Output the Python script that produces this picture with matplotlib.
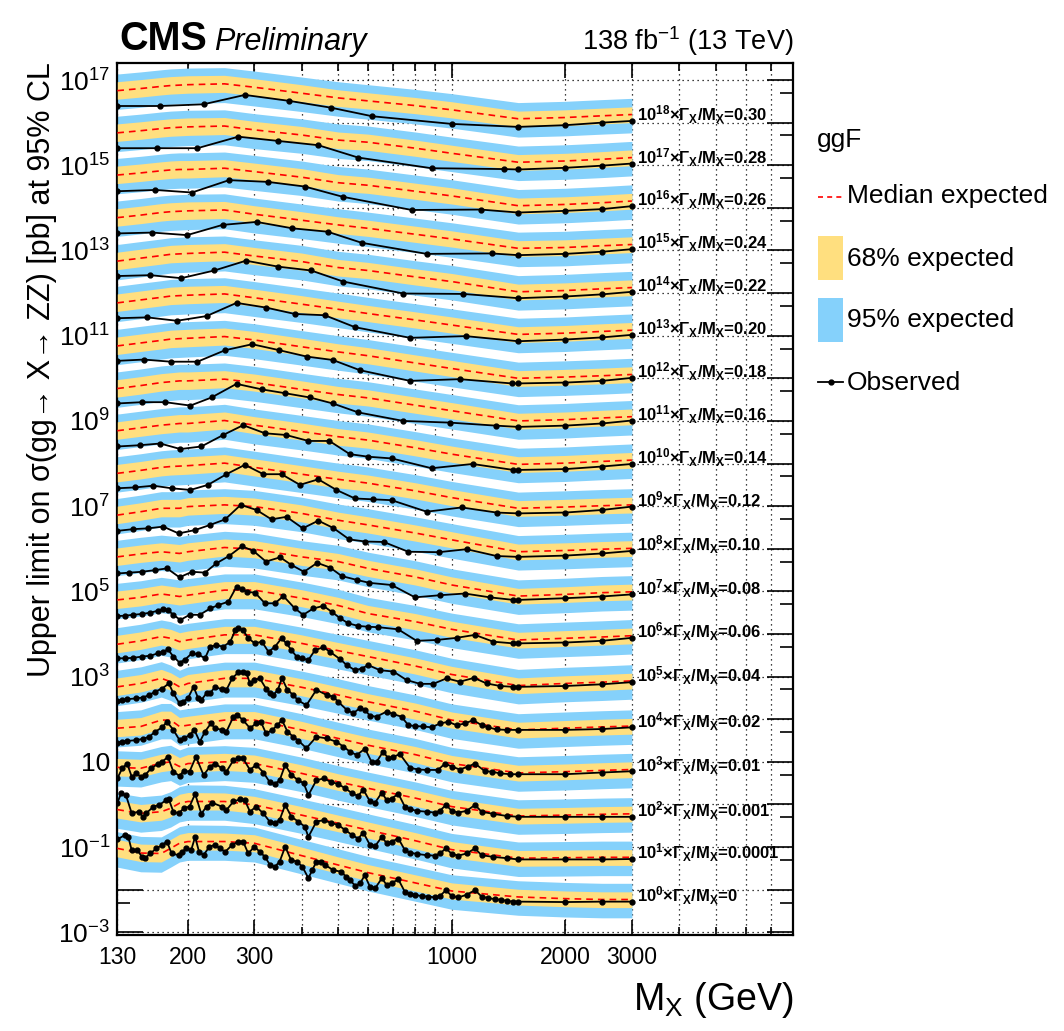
import numpy as np
import matplotlib
matplotlib.use('Agg')
import matplotlib.pyplot as plt
from matplotlib.patches import Rectangle
from matplotlib.lines import Line2D
from matplotlib.ticker import FixedLocator, FixedFormatter

plt.rcParams['font.family'] = ['Liberation Sans', 'DejaVu Sans']
plt.rcParams['mathtext.fontset'] = 'custom'
plt.rcParams['mathtext.rm'] = 'Liberation Sans'
plt.rcParams['mathtext.it'] = 'Liberation Sans:italic'
plt.rcParams['mathtext.bf'] = 'Liberation Sans:bold'

# width hypotheses (Gamma_X / M_X); curve k is drawn multiplied by 10^k
width_labels = ['0', '0.0001', '0.001', '0.01', '0.02', '0.04', '0.06', '0.08', '0.10', '0.12',
                '0.14', '0.16', '0.18', '0.20', '0.22', '0.24', '0.26', '0.28', '0.30']

# mass points of the expected limits (GeV)
exp_mass = [130, 150, 170, 180, 190, 200, 250, 300, 400, 500, 600, 800, 1000, 1500, 2000, 2500, 3000]

# band edges relative to the median, in decades
band_up2 = [0.39, 0.39, 0.39, 0.39, 0.39, 0.39, 0.38, 0.38, 0.38, 0.38, 0.38, 0.38, 0.38, 0.38, 0.38, 0.38, 0.38]
band_up1 = [0.21, 0.21, 0.21, 0.21, 0.21, 0.21, 0.20, 0.20, 0.20, 0.19, 0.19, 0.19, 0.19, 0.18, 0.18, 0.18, 0.18]
band_dn1 = [0.20, 0.20, 0.20, 0.20, 0.20, 0.20, 0.20, 0.20, 0.20, 0.20, 0.19, 0.19, 0.19, 0.19, 0.19, 0.19, 0.19]
band_dn2 = [0.44, 0.44, 0.44, 0.44, 0.44, 0.44, 0.44, 0.44, 0.43, 0.43, 0.43, 0.43, 0.43, 0.43, 0.43, 0.43, 0.43]

# median expected limit, log10(sigma / pb), unscaled
med_0 = [-1.03, -1.14, -1.15, -1.03, -0.91, -0.87, -0.87, -0.91, -1.20, -1.42, -1.60, -1.84, -2.03, -2.17, -2.21, -2.23, -2.23]
med_1 = [-1.12, -1.21, -1.17, -1.09, -0.97, -0.93, -0.93, -1.01, -1.25, -1.44, -1.60, -1.85, -2.06, -2.26, -2.25, -2.24, -2.24]
med_2 = [-1.13, -1.15, -1.03, -1.00, -1.11, -1.04, -1.00, -1.04, -1.27, -1.47, -1.62, -1.85, -2.05, -2.27, -2.25, -2.23, -2.22]
med_3 = [-1.21, -1.17, -1.02, -1.02, -1.17, -1.14, -1.02, -1.02, -1.25, -1.45, -1.61, -1.83, -2.04, -2.26, -2.23, -2.20, -2.18]
med_4 = [-1.24, -1.16, -1.04, -1.12, -1.24, -1.16, -1.04, -1.04, -1.25, -1.43, -1.59, -1.81, -2.02, -2.25, -2.21, -2.18, -2.16]
med_5 = [-1.24, -1.16, -1.06, -1.10, -1.18, -1.14, -1.02, -1.02, -1.22, -1.39, -1.53, -1.75, -1.95, -2.21, -2.16, -2.13, -2.10]
med_6 = [-1.20, -1.14, -1.06, -1.09, -1.12, -1.09, -0.97, -0.97, -1.16, -1.33, -1.52, -1.71, -1.89, -2.14, -2.10, -2.07, -2.04]
med_7 = [-1.19, -1.12, -1.07, -1.09, -1.11, -1.07, -0.97, -1.01, -1.19, -1.30, -1.46, -1.66, -1.85, -2.11, -2.07, -2.03, -2.01]
med_8 = [-1.21, -1.13, -1.05, -1.05, -1.05, -1.01, -0.97, -1.01, -1.17, -1.33, -1.44, -1.63, -1.79, -2.07, -2.04, -2.01, -1.99]
med_9 = [-1.23, -1.16, -1.09, -1.07, -1.06, -1.05, -0.99, -1.09, -1.25, -1.37, -1.46, -1.64, -1.80, -2.05, -2.02, -1.99, -1.97]
med_10 = [-1.23, -1.16, -1.10, -1.08, -1.06, -1.06, -0.99, -1.10, -1.25, -1.37, -1.45, -1.63, -1.78, -2.02, -1.99, -1.95, -1.92]
med_11 = [-1.24, -1.17, -1.10, -1.08, -1.06, -1.06, -1.02, -1.10, -1.26, -1.38, -1.46, -1.63, -1.76, -2.00, -1.97, -1.93, -1.90]
med_12 = [-1.24, -1.17, -1.11, -1.08, -1.07, -1.06, -1.02, -1.10, -1.26, -1.38, -1.47, -1.64, -1.77, -2.00, -1.97, -1.94, -1.91]
med_13 = [-1.23, -1.16, -1.10, -1.07, -1.06, -1.05, -1.02, -1.11, -1.26, -1.38, -1.48, -1.63, -1.75, -1.97, -1.94, -1.90, -1.87]
med_14 = [-1.25, -1.18, -1.12, -1.09, -1.08, -1.07, -1.04, -1.13, -1.26, -1.40, -1.47, -1.62, -1.73, -1.97, -1.94, -1.90, -1.87]
med_15 = [-1.23, -1.17, -1.11, -1.09, -1.08, -1.07, -1.05, -1.15, -1.29, -1.40, -1.48, -1.62, -1.73, -1.95, -1.93, -1.89, -1.86]
med_16 = [-1.23, -1.18, -1.13, -1.11, -1.10, -1.10, -1.07, -1.15, -1.28, -1.41, -1.47, -1.61, -1.72, -1.95, -1.92, -1.88, -1.84]
med_17 = [-1.24, -1.19, -1.14, -1.12, -1.11, -1.10, -1.08, -1.17, -1.29, -1.41, -1.46, -1.60, -1.72, -1.93, -1.90, -1.86, -1.82]
med_18 = [-1.25, -1.20, -1.15, -1.13, -1.12, -1.11, -1.09, -1.17, -1.31, -1.42, -1.49, -1.60, -1.70, -1.91, -1.88, -1.84, -1.81]

# observed limit, (mass GeV, log10(sigma / pb)), unscaled
obs_0 = [(130, -0.82), (136, -0.72), (139, -0.76), (142, -1.08), (147, -1.07), (151, -1.23), (154, -1.26),
         (159, -1.15), (165, -1.03), (171, -0.95), (176, -0.87), (181, -1.15), (189, -1.19), (193, -1.11),
         (198, -1.03), (204, -1.07), (209, -0.76), (214, -1.11), (220, -1.19), (228, -0.99), (236, -0.95),
         (243, -1.03), (251, -1.11), (262, -0.95), (272, -0.87), (280, -0.87), (289, -1.15), (300, -0.99),
         (310, -1.11), (320, -1.23), (330, -1.42), (340, -1.46), (350, -1.34), (362, -0.99), (375, -1.30),
         (388, -1.34), (402, -1.46), (417, -1.73), (427, -1.54), (438, -1.34), (450, -1.34), (462, -1.42),
         (485, -1.54), (510, -1.58), (525, -1.70), (537, -1.77), (555, -1.91), (572, -1.85), (588, -1.66),
         (607, -1.93), (626, -1.97), (653, -1.73), (672, -1.89), (693, -1.84), (722, -1.76), (751, -2.05),
         (775, -2.10), (799, -2.12), (832, -2.15), (866, -2.16), (901, -2.18), (930, -2.15), (965, -2.01),
         (1000, -2.15), (1041, -2.18), (1095, -2.12), (1152, -2.01), (1199, -2.16), (1250, -2.20),
         (1300, -2.22), (1350, -2.24), (1400, -2.26), (1450, -2.28), (1500, -2.28), (2000, -2.29),
         (2500, -2.28), (3000, -2.28)]
obs_1 = [(130, -0.97), (133, -0.74), (137, -0.78), (142, -1.21), (148, -1.17), (152, -1.29), (155, -1.21),
         (162, -1.05), (168, -1.01), (175, -0.90), (178, -0.88), (183, -1.17), (189, -1.21), (195, -1.09),
         (202, -1.05), (209, -0.75), (217, -1.22), (224, -1.05), (232, -0.96), (246, -1.05), (253, -1.13),
         (264, -0.93), (275, -0.88), (283, -0.90), (292, -1.17), (303, -1.05), (317, -1.21), (329, -1.40),
         (340, -1.44), (350, -1.36), (362, -1.01), (376, -1.29), (392, -1.40), (408, -1.52), (417, -1.76),
         (438, -1.40), (458, -1.37), (478, -1.43), (500, -1.48), (522, -1.60), (545, -1.72), (565, -1.80),
         (583, -1.66), (607, -1.95), (626, -1.98), (653, -1.76), (672, -1.91), (693, -1.87), (722, -1.80),
         (751, -2.07), (775, -2.13), (807, -2.16), (858, -2.19), (901, -2.20), (930, -2.15), (965, -2.03),
         (1000, -2.16), (1041, -2.20), (1095, -2.15), (1152, -2.03), (1199, -2.19), (1287, -2.23),
         (1398, -2.26), (1500, -2.29), (2000, -2.29), (2500, -2.29), (3000, -2.28)]
obs_2 = [(130, -1.39), (134, -1.15), (138, -1.04), (142, -1.35), (146, -1.27), (150, -1.35), (154, -1.31),
         (160, -1.15), (167, -1.04), (171, -1.00), (177, -0.88), (183, -1.23), (190, -1.33), (195, -1.21),
         (202, -1.23), (210, -0.88), (220, -1.31), (229, -1.11), (236, -1.04), (246, -1.15), (253, -1.23),
         (264, -0.96), (272, -0.92), (280, -0.92), (292, -1.19), (303, -1.07), (317, -1.25), (329, -1.47),
         (340, -1.52), (350, -1.43), (362, -1.07), (376, -1.31), (392, -1.43), (405, -1.50), (417, -1.78),
         (438, -1.43), (458, -1.39), (478, -1.47), (500, -1.52), (522, -1.62), (545, -1.74), (565, -1.80),
         (583, -1.65), (607, -1.93), (626, -1.96), (653, -1.72), (672, -1.90), (693, -1.86), (722, -1.75),
         (751, -2.05), (775, -2.11), (807, -2.15), (858, -2.17), (901, -2.19), (930, -2.15), (965, -2.01),
         (1000, -2.15), (1041, -2.19), (1095, -2.15), (1152, -2.01), (1199, -2.17), (1287, -2.22),
         (1398, -2.27), (1500, -2.29), (2000, -2.29), (2500, -2.29), (3000, -2.29)]
obs_3 = [(130, -1.55), (134, -1.53), (138, -1.51), (146, -1.49), (152, -1.46), (158, -1.41), (164, -1.29),
         (171, -1.19), (176, -1.06), (183, -1.25), (190, -1.49), (195, -1.45), (202, -1.37), (208, -1.25),
         (215, -1.53), (222, -1.29), (230, -1.10), (236, -1.21), (246, -1.25), (253, -1.29), (264, -0.94),
         (270, -0.90), (280, -1.02), (292, -1.21), (303, -1.10), (312, -1.06), (322, -1.33), (335, -1.25),
         (345, -1.14), (355, -1.02), (367, -1.29), (380, -1.41), (392, -1.50), (412, -1.68), (438, -1.41),
         (466, -1.45), (495, -1.53), (516, -1.64), (537, -1.76), (560, -1.84), (589, -1.69), (613, -2.00),
         (632, -2.00), (658, -1.76), (679, -1.92), (700, -1.88), (729, -1.82), (775, -2.14), (815, -2.18),
         (858, -2.19), (920, -2.19), (959, -2.04), (1000, -2.11), (1050, -2.18), (1105, -2.11),
         (1152, -2.04), (1224, -2.22), (1275, -2.23), (1342, -2.27), (1427, -2.29), (1500, -2.29),
         (2000, -2.29), (2500, -2.25), (3000, -2.22)]
obs_4 = [(130, -1.57), (134, -1.55), (138, -1.53), (146, -1.51), (152, -1.49), (158, -1.43), (164, -1.35),
         (171, -1.28), (178, -1.16), (183, -1.39), (190, -1.63), (194, -1.59), (200, -1.51), (207, -1.24),
         (213, -1.51), (217, -1.55), (224, -1.39), (229, -1.39), (236, -1.24), (246, -1.30), (253, -1.31),
         (262, -1.04), (272, -0.90), (280, -0.88), (286, -0.92), (292, -1.16), (300, -1.08), (310, -1.04),
         (322, -1.28), (329, -1.39), (337, -1.43), (346, -1.31), (355, -1.04), (367, -1.31), (380, -1.43),
         (392, -1.56), (412, -1.67), (438, -1.31), (466, -1.43), (485, -1.47), (500, -1.59), (527, -1.78),
         (548, -1.86), (571, -1.74), (589, -1.78), (607, -1.92), (632, -1.94), (672, -1.82), (700, -1.88),
         (736, -1.94), (767, -2.14), (799, -2.16), (840, -2.17), (884, -2.19), (930, -2.10), (978, -2.06),
         (1030, -2.14), (1083, -2.10), (1140, -2.02), (1199, -2.14), (1249, -2.19), (1314, -2.24),
         (1398, -2.25), (1500, -2.25), (2000, -2.25), (2500, -2.23), (3000, -2.19)]
obs_5 = [(130, -1.57), (136, -1.57), (143, -1.56), (151, -1.53), (159, -1.51), (167, -1.45), (172, -1.42),
         (177, -1.36), (183, -1.53), (190, -1.67), (196, -1.61), (205, -1.45), (213, -1.48), (222, -1.57),
         (229, -1.30), (238, -1.26), (248, -1.30), (259, -1.18), (267, -0.91), (272, -0.87), (280, -0.91),
         (289, -1.10), (301, -1.22), (314, -1.18), (327, -1.42), (340, -1.30), (354, -1.10), (365, -1.22),
         (376, -1.38), (388, -1.53), (400, -1.57), (417, -1.61), (434, -1.38), (457, -1.31), (476, -1.42),
         (506, -1.59), (527, -1.73), (554, -1.85), (577, -1.81), (601, -1.73), (645, -1.85), (700, -1.88),
         (759, -2.08), (824, -2.17), (893, -2.17), (969, -2.04), (1050, -2.12), (1145, -2.03),
         (1237, -2.16), (1342, -2.22), (1455, -2.24), (1500, -2.24), (2000, -2.22), (2500, -2.18),
         (3000, -2.13)]
obs_6 = [(130, -1.58), (136, -1.57), (143, -1.55), (151, -1.53), (159, -1.50), (167, -1.45), (172, -1.41),
         (177, -1.44), (183, -1.55), (191, -1.67), (202, -1.55), (215, -1.55), (229, -1.40), (241, -1.32),
         (256, -1.24), (269, -0.89), (278, -0.95), (286, -1.01), (301, -1.03), (320, -1.28), (340, -1.28),
         (358, -1.11), (384, -1.40), (404, -1.55), (430, -1.40), (457, -1.34), (481, -1.48), (506, -1.63),
         (532, -1.75), (565, -1.81), (601, -1.83), (639, -1.84), (721, -1.89), (807, -2.16), (912, -2.14),
         (1030, -2.09), (1152, -2.02), (1287, -2.18), (1455, -2.22), (1500, -2.22), (2000, -2.20),
         (2500, -2.16), (3000, -2.09)]
obs_7 = [(130, -1.58), (140, -1.56), (151, -1.54), (164, -1.50), (176, -1.46), (190, -1.67), (205, -1.54),
         (222, -1.56), (238, -1.34), (257, -1.17), (278, -0.94), (298, -1.05), (322, -1.30), (351, -1.20),
         (376, -1.38), (406, -1.54), (440, -1.33), (476, -1.44), (511, -1.64), (560, -1.73), (605, -1.80),
         (693, -1.85), (799, -2.14), (930, -2.09), (1083, -2.05), (1262, -2.14), (1455, -2.20),
         (1500, -2.20), (2000, -2.16), (2500, -2.12), (3000, -2.07)]
obs_8 = [(130, -1.58), (143, -1.54), (157, -1.52), (172, -1.48), (189, -1.64), (209, -1.56), (229, -1.44),
         (251, -1.31), (276, -0.97), (304, -1.09), (333, -1.31), (365, -1.25), (403, -1.52), (443, -1.34),
         (485, -1.51), (535, -1.78), (590, -1.83), (660, -1.84), (767, -2.07), (924, -2.08), (1095, -2.01),
         (1314, -2.17), (1500, -2.19), (2000, -2.16), (2500, -2.11), (3000, -2.05)]
obs_9 = [(130, -1.58), (145, -1.56), (162, -1.52), (181, -1.58), (203, -1.62), (226, -1.50), (253, -1.25),
         (283, -1.03), (317, -1.25), (354, -1.25), (396, -1.50), (443, -1.37), (495, -1.62), (554, -1.82),
         (620, -1.84), (693, -1.86), (858, -2.13), (1062, -2.03), (1314, -2.15), (1500, -2.17),
         (2000, -2.15), (2500, -2.09), (3000, -2.01)]
obs_10 = [(130, -1.60), (149, -1.57), (169, -1.53), (191, -1.66), (217, -1.60), (248, -1.33), (280, -1.10),
          (320, -1.29), (364, -1.33), (417, -1.47), (474, -1.47), (537, -1.78), (601, -1.84), (693, -1.88),
          (884, -2.11), (1135, -2.01), (1455, -2.15), (1500, -2.15), (2000, -2.13), (2500, -2.07),
          (3000, -2.01)]
obs_11 = [(130, -1.59), (151, -1.56), (174, -1.56), (203, -1.64), (231, -1.45), (269, -1.13), (314, -1.26),
          (362, -1.35), (421, -1.45), (484, -1.59), (565, -1.80), (744, -2.00), (989, -2.04), (1306, -2.11),
          (1500, -2.14), (2000, -2.11), (2500, -2.06), (3000, -1.99)]
obs_12 = [(130, -1.59), (153, -1.56), (180, -1.61), (212, -1.61), (251, -1.34), (296, -1.20), (349, -1.34),
          (413, -1.49), (484, -1.57), (571, -1.81), (775, -2.06), (1050, -2.02), (1440, -2.12),
          (1500, -2.12), (2000, -2.10), (2500, -2.06), (3000, -1.99)]
obs_13 = [(130, -1.59), (156, -1.57), (187, -1.65), (224, -1.54), (269, -1.23), (322, -1.34), (384, -1.49),
          (461, -1.52), (554, -1.80), (775, -2.05), (1089, -2.01), (1500, -2.13), (2000, -2.09),
          (2500, -2.04), (3000, -1.98)]
obs_14 = [(130, -1.60), (159, -1.58), (192, -1.65), (235, -1.47), (285, -1.24), (347, -1.38), (424, -1.47),
          (516, -1.73), (744, -2.01), (1072, -2.02), (1500, -2.12), (2000, -2.08), (2500, -2.03),
          (3000, -1.97)]
obs_15 = [(130, -1.60), (161, -1.58), (199, -1.64), (247, -1.40), (304, -1.33), (378, -1.48), (469, -1.56),
          (577, -1.82), (858, -2.08), (1275, -2.07), (1500, -2.11), (2000, -2.08), (2500, -2.03),
          (3000, -1.97)]
obs_16 = [(130, -1.61), (164, -1.58), (205, -1.64), (257, -1.35), (325, -1.39), (408, -1.50), (514, -1.74),
          (783, -2.05), (1192, -2.04), (1500, -2.11), (2000, -2.07), (2500, -2.03), (3000, -1.96)]
obs_17 = [(130, -1.60), (166, -1.60), (212, -1.60), (272, -1.33), (347, -1.43), (443, -1.53), (565, -1.82),
          (884, -2.07), (1377, -2.09), (1500, -2.10), (2000, -2.06), (2500, -2.01), (3000, -1.96)]
obs_18 = [(130, -1.61), (169, -1.61), (220, -1.57), (283, -1.35), (371, -1.49), (479, -1.65), (615, -1.85),
          (1000, -2.03), (1500, -2.10), (2000, -2.06), (2500, -2.00), (3000, -1.96)]

medians = [med_0, med_1, med_2, med_3, med_4, med_5, med_6, med_7, med_8, med_9,
           med_10, med_11, med_12, med_13, med_14, med_15, med_16, med_17, med_18]
observed = [obs_0, obs_1, obs_2, obs_3, obs_4, obs_5, obs_6, obs_7, obs_8, obs_9,
            obs_10, obs_11, obs_12, obs_13, obs_14, obs_15, obs_16, obs_17, obs_18]

W, H = 1064, 1031
fig = plt.figure(figsize=(W / 100, H / 100), dpi=100)
ax = fig.add_axes([117.3 / W, 1 - 935 / H, (792.7 - 117.3) / W, (935 - 63.3) / H])

yellow = '#ffdf7f'
blue = '#85d1fb'

m = np.array(exp_mass, dtype=float)
up2, up1 = np.array(band_up2), np.array(band_up1)
dn1, dn2 = np.array(band_dn1), np.array(band_dn2)

for k in range(len(medians)):
    scale = 10.0 ** k
    med = np.array(medians[k])
    ax.fill_between(m, 10 ** (med - dn2) * scale, 10 ** (med + up2) * scale, color=blue, lw=0, zorder=2)
    ax.fill_between(m, 10 ** (med - dn1) * scale, 10 ** (med + up1) * scale, color=yellow, lw=0, zorder=3)
    ax.plot(m, 10 ** med * scale, color='red', ls=(0, (4, 3)), lw=1.2, zorder=4)
    om = np.array([p[0] for p in observed[k]], dtype=float)
    ov = np.array([p[1] for p in observed[k]])
    ax.plot(om, 10 ** ov * scale, color='black', lw=1.3, marker='o', ms=3.5, zorder=5)
    lab = r'10$^{\mathbf{%d}}$×Γ$_{\mathbf{X}}$/M$_{\mathbf{X}}$=%s' % (k, width_labels[k])
    ax.text(3100, 10 ** ov[-1] * scale, lab, fontsize=12, fontweight='bold',
            ha='left', va='baseline', zorder=6)

ax.set_xscale('log')
ax.set_yscale('log')
ax.set_xlim(130, 8000)
ax.set_ylim(10 ** -3.063, 10 ** 17.392)

# x ticks
ax.xaxis.set_major_locator(FixedLocator([130, 200, 300, 1000, 2000, 3000]))
ax.xaxis.set_major_formatter(FixedFormatter(['130', '200', '300', '1000', '2000', '3000']))
ax.xaxis.set_minor_locator(FixedLocator([400, 500, 600, 700, 800, 900, 4000, 5000, 6000, 7000]))
ax.xaxis.set_minor_formatter(FixedFormatter([''] * 10))

# y ticks: every decade, labels on odd powers
ydec = list(range(-3, 18))
ylabels = []
for n in ydec:
    if n % 2 == 0:
        ylabels.append('')
    elif n == 1:
        ylabels.append('10')
    else:
        ylabels.append(r'$10^{%d}$' % n)
ax.yaxis.set_major_locator(FixedLocator([10.0 ** n for n in ydec]))
ax.yaxis.set_major_formatter(FixedFormatter(ylabels))
ax.yaxis.set_minor_locator(FixedLocator([5 * 10.0 ** n for n in range(-4, 17)]))
ax.yaxis.set_minor_formatter(FixedFormatter([''] * 21))

ax.tick_params(axis='x', which='major', direction='in', length=11, width=1.2, top=True,
               labelsize=16.5, pad=8)
ax.tick_params(axis='x', which='minor', direction='in', length=6, width=1.2, top=True)
ax.tick_params(axis='y', which='major', direction='in', length=19, width=1.2, right=True,
               labelsize=19, pad=5)
ax.tick_params(axis='y', which='minor', direction='in', length=9.5, width=1.2, right=True)

ax.set_axisbelow(True)
ax.grid(True, which='both', axis='x', color='black', ls=(0, (1, 3)), lw=0.9)
ax.grid(True, which='major', axis='y', color='black', ls=(0, (1, 3)), lw=0.9)
for s in ax.spines.values():
    s.set_linewidth(1.6)

# axis titles
fig.text(42 / W, 1 - 62 / H, 'Upper limit on σ(gg→ X→ ZZ) [pb] at 95% CL',
         rotation=90, ha='center', va='top', fontsize=22)
fig.text(793 / W, 1 - 1000 / H, r'M$_\mathregular{X}$ (GeV)', ha='right', va='center', fontsize=27)

# header
fig.text(119 / W, 1 - 50 / H, 'CMS', fontsize=28.5, fontweight='bold', ha='left', va='baseline')
fig.text(214 / W, 1 - 50 / H, 'Preliminary', fontsize=22, style='italic', ha='left', va='baseline')
fig.text(793 / W, 1 - 50 / H, r'138 fb$^{-1}$ (13 TeV)', fontsize=19.5, ha='right', va='baseline')

# legend
def fx(x):
    return x / W

def fy(y):
    return 1 - y / H

fig.text(fx(817), fy(146.7), 'ggF', fontsize=19, ha='left', va='baseline')
fig.add_artist(Line2D([fx(818), fx(843)], [fy(196.7), fy(196.7)], color='red', ls=(0, (3, 2.5)),
                      lw=1.2, transform=fig.transFigure))
fig.text(fx(847), fy(203.3), 'Median expected', fontsize=19, ha='left', va='baseline')
fig.add_artist(Rectangle((fx(818), fy(280)), fx(843) - fx(818), fy(236) - fy(280), color=yellow,
                         lw=0, transform=fig.transFigure))
fig.text(fx(847), fy(266), '68% expected', fontsize=19, ha='left', va='baseline')
fig.add_artist(Rectangle((fx(818), fy(342)), fx(843) - fx(818), fy(298) - fy(342), color=blue,
                         lw=0, transform=fig.transFigure))
fig.text(fx(847), fy(326.7), '95% expected', fontsize=19, ha='left', va='baseline')
fig.add_artist(Line2D([fx(818), fx(843)], [fy(381.7), fy(381.7)], color='black', lw=1.3,
                      transform=fig.transFigure))
fig.add_artist(Line2D([fx(830.5)], [fy(381.7)], color='black', marker='o', ms=3.5,
                      transform=fig.transFigure))
fig.text(fx(847), fy(390), 'Observed', fontsize=19, ha='left', va='baseline')

fig.savefig('out.png', dpi=100)
